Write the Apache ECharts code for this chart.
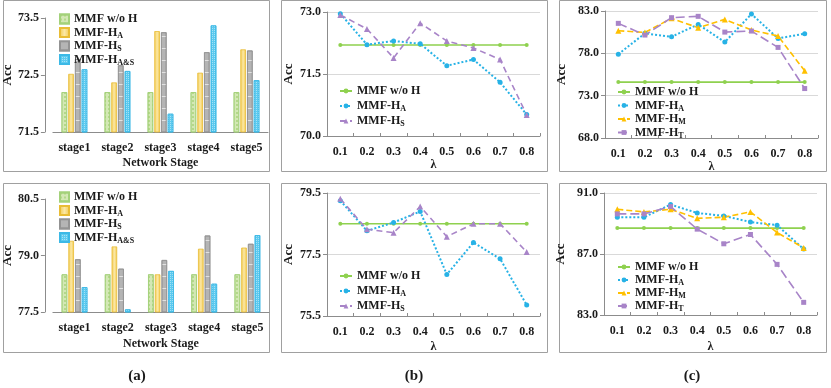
<!DOCTYPE html>
<html lang="en">
<head>
<meta charset="UTF-8">
<title>Acc chart</title>
<script src="https://cdn.jsdelivr.net/npm/echarts@6/dist/echarts.min.js"></script>
<style>
  html, body { margin: 0; padding: 0; background: #fff; }
  #chart { width: 831px; height: 388px; }
</style>
</head>
<body>
<div id="chart"></div>
<script>
// categories
var stages = ['stage1', 'stage2', 'stage3', 'stage4', 'stage5'];
var lambdas = ['0.1', '0.2', '0.3', '0.4', '0.5', '0.6', '0.7', '0.8'];

// (a) top
var aTopWoH = [72.2, 72.2, 72.2, 72.2, 72.2];
var aTopHA = [72.52, 72.37, 73.27, 72.54, 72.95];
var aTopHS = [72.78, 72.67, 73.25, 72.9, 72.93];
var aTopHAS = [72.6, 72.57, 71.82, 73.37, 72.41];
// (a) bottom
var aBotWoH = [78.5, 78.5, 78.5, 78.5, 78.5];
var aBotHA = [79.39, 79.24, 78.5, 79.18, 79.21];
var aBotHS = [78.9, 78.65, 78.88, 79.53, 79.31];
var aBotHAS = [78.16, 77.57, 78.59, 78.25, 79.54];
// (b) top
var bTopWoH = [72.2, 72.2, 72.2, 72.2, 72.2, 72.2, 72.2, 72.2];
var bTopHA = [72.96, 72.21, 72.3, 72.23, 71.7, 71.85, 71.3, 70.52];
var bTopHS = [72.93, 72.59, 71.89, 72.73, 72.3, 72.13, 71.85, 70.51];
// (b) bottom
var bBotWoH = [78.5, 78.5, 78.5, 78.5, 78.5, 78.5, 78.5, 78.5];
var bBotHA = [79.25, 78.27, 78.54, 78.9, 76.85, 77.89, 77.36, 75.86];
var bBotHS = [79.31, 78.32, 78.21, 79.06, 78.08, 78.5, 78.5, 77.58];
// (c) top
var cTopWoH = [74.6, 74.6, 74.6, 74.6, 74.6, 74.6, 74.6, 74.6];
var cTopHA = [77.9, 80.36, 79.96, 81.42, 79.33, 82.64, 79.76, 80.32];
var cTopHM = [80.67, 80.47, 82.13, 81.03, 82.01, 80.75, 80.04, 75.93];
var cTopHT = [81.54, 80.16, 82.21, 82.37, 80.51, 80.63, 78.7, 73.84];
// (c) bottom
var cBotWoH = [88.7, 88.7, 88.7, 88.7, 88.7, 88.7, 88.7, 88.7];
var cBotHA = [89.41, 89.41, 90.24, 89.69, 89.5, 89.1, 88.89, 87.32];
var cBotHM = [89.93, 89.76, 89.93, 89.34, 89.41, 89.76, 88.41, 87.4];
var cBotHT = [89.63, 89.63, 90.11, 88.63, 87.67, 88.28, 86.32, 83.83];

// y tick labels
var aTopTicks = [71.5, 72.5, 73.5];
var aBotTicks = [77.5, 79.0, 80.5];
var bTopTicks = [70.0, 71.5, 73.0];
var bBotTicks = [75.5, 77.5, 79.5];
var cTopTicks = [68.0, 73.0, 78.0, 83.0];
var cBotTicks = [83.0, 87.0, 91.0];

var FONT = "'Liberation Serif', 'Times New Roman', serif";
var INK = '#1a1a1a';
var AXIS = '#8c8c8c';

var rich = {
    m: { fontFamily: FONT, fontWeight: 'bold', fontSize: 12, color: INK, lineHeight: 14 },
    s: { fontFamily: FONT, fontWeight: 'bold', fontSize: 8, color: INK, padding: [6, 0, 0, 0] }
};
// names are "panel|text|subscript"
function legendFmt(n) {
    var p = n.split('|');
    return '{m|' + p[1] + '}{s|' + (p[2] || ' ') + '}';
}

function yAxisOf(grid, ticks, gap, offset, split) {
    return {
        type: 'value', gridIndex: grid,
        min: ticks[0], max: ticks[ticks.length - 1],
        offset: offset || 0,
        name: 'Acc', nameLocation: 'middle', nameGap: gap,
        nameTextStyle: { fontFamily: FONT, fontWeight: 'bold', fontSize: 13, color: INK },
        axisLine: { show: true, lineStyle: { color: AXIS } },
        axisTick: { show: true, length: 4, lineStyle: { color: AXIS }, customValues: ticks },
        axisLabel: {
            customValues: ticks, margin: 6,
            fontFamily: FONT, fontWeight: 'bold', fontSize: 12, color: INK,
            formatter: function (v) { return v.toFixed(1); }
        },
        splitLine: { show: split, lineStyle: { color: '#d9d9d9' } }
    };
}

function xAxisOf(grid, cats, name, gap, ticks) {
    return {
        type: 'category', gridIndex: grid, data: cats,
        name: name, nameLocation: 'middle', nameGap: gap,
        nameTextStyle: { fontFamily: FONT, fontWeight: 'bold', fontSize: 12, color: INK },
        axisLine: { lineStyle: { color: AXIS } },
        axisTick: { show: ticks, inside: true, length: 3, lineStyle: { color: AXIS } },
        axisLabel: { margin: 10, fontFamily: FONT, fontWeight: 'bold', fontSize: 12, color: INK }
    };
}

function bar(name, grid, data, style) {
    return {
        name: name, type: 'bar', xAxisIndex: grid, yAxisIndex: grid, data: data,
        barWidth: 5.6, barGap: '20%',
        itemStyle: style
    };
}

var greenBar = {
    color: '#d3e8b5', borderColor: '#a3d17a', borderWidth: 0.8,
    decal: { symbol: 'rect', symbolSize: 1, dashArrayX: [2, 2], dashArrayY: [2, 2], color: 'rgba(160,205,110,0.6)' }
};
var yellowBar = {
    color: new echarts.graphic.LinearGradient(0, 0, 1, 0, [
        { offset: 0, color: '#f2c84a' }, { offset: 0.5, color: '#fbe8a6' }, { offset: 1, color: '#f2c84a' }
    ]),
    borderColor: '#e9bd36', borderWidth: 0.8
};
var grayBar = {
    color: '#b4b4b4', borderColor: '#939393', borderWidth: 0.8,
    decal: { symbol: 'rect', symbolSize: 1, dashArrayX: [1, 0], dashArrayY: [1, 11], color: 'rgba(255,255,255,0.6)' }
};
var blueBar = {
    color: '#5ccaef', borderColor: '#3cb9e6', borderWidth: 0.8,
    decal: { symbol: 'rect', symbolSize: 1, dashArrayX: [1, 1], dashArrayY: [1, 1], color: 'rgba(255,255,255,0.45)' }
};

function line(name, grid, data, color, type, symbol, size) {
    return {
        name: name, type: 'line', xAxisIndex: grid, yAxisIndex: grid, data: data,
        symbol: symbol, symbolSize: size, showSymbol: true,
        itemStyle: { color: color },
        lineStyle: { color: color, width: type === 'dotted' ? 2 : 1.6, type: type }
    };
}

function legendOf(names, left, top, gap, icon) {
    var l = {
        orient: 'vertical', left: left, top: top, itemGap: gap,
        data: names, formatter: legendFmt,
        textStyle: { rich: rich }, selectedMode: false
    };
    if (icon) { l.itemWidth = 9; l.itemHeight = 9; l.icon = 'rect'; }
    else { l.itemWidth = 12; l.itemHeight = 6; }
    return l;
}

var GREEN = '#8fd14f', BLUE = '#27b2e6', PURPLE = '#a884c8', GOLD = '#ffc000';

var option = {
    animation: false,
    backgroundColor: '#fff',
    grid: [
        { left: 49, top: 18, width: 219, height: 114 },
        { left: 50, top: 199, width: 219, height: 113 },
        { left: 327, top: 12, width: 213, height: 124 },
        { left: 327, top: 193, width: 213, height: 123 },
        { left: 605, top: 11, width: 213, height: 127 },
        { left: 604, top: 193, width: 213, height: 122 }
    ],
    xAxis: [
        xAxisOf(0, stages, 'Network Stage', 25, false),
        xAxisOf(1, stages, 'Network Stage', 26, false),
        xAxisOf(2, lambdas, 'λ', 21, true),
        xAxisOf(3, lambdas, 'λ', 25, true),
        xAxisOf(4, lambdas, 'λ', 21, true),
        xAxisOf(5, lambdas, 'λ', 26, true)
    ],
    yAxis: [
        yAxisOf(0, aTopTicks, 26, 8, false),
        yAxisOf(1, aBotTicks, 26, 8, false),
        yAxisOf(2, bTopTicks, 32, 0, true),
        yAxisOf(3, bBotTicks, 32, 0, true),
        yAxisOf(4, cTopTicks, 37, 0, true),
        yAxisOf(5, cBotTicks, 37, 0, true)
    ],
    legend: [
        legendOf(['aT|MMF w/o H', 'aT|MMF-H|A', 'aT|MMF-H|S', 'aT|MMF-H|A&S'], 54, 8, 0.5, true),
        legendOf(['aB|MMF w/o H', 'aB|MMF-H|A', 'aB|MMF-H|S', 'aB|MMF-H|A&S'], 54, 186, 0.5, true),
        legendOf(['bT|MMF w/o H', 'bT|MMF-H|A', 'bT|MMF-H|S'], 334, 80, 2),
        legendOf(['bB|MMF w/o H', 'bB|MMF-H|A', 'bB|MMF-H|S'], 334, 265, 2),
        legendOf(['cT|MMF w/o H', 'cT|MMF-H|A', 'cT|MMF-H|M', 'cT|MMF-H|T'], 612, 81, 0.5),
        legendOf(['cB|MMF w/o H', 'cB|MMF-H|A', 'cB|MMF-H|M', 'cB|MMF-H|T'], 612, 256, 0)
    ],
    series: [
        bar('aT|MMF w/o H', 0, aTopWoH, greenBar),
        bar('aT|MMF-H|A', 0, aTopHA, yellowBar),
        bar('aT|MMF-H|S', 0, aTopHS, grayBar),
        bar('aT|MMF-H|A&S', 0, aTopHAS, blueBar),
        bar('aB|MMF w/o H', 1, aBotWoH, greenBar),
        bar('aB|MMF-H|A', 1, aBotHA, yellowBar),
        bar('aB|MMF-H|S', 1, aBotHS, grayBar),
        bar('aB|MMF-H|A&S', 1, aBotHAS, blueBar),

        line('bT|MMF w/o H', 2, bTopWoH, GREEN, 'solid', 'circle', 4),
        line('bT|MMF-H|A', 2, bTopHA, BLUE, 'dotted', 'circle', 5),
        line('bT|MMF-H|S', 2, bTopHS, PURPLE, [6, 4], 'triangle', 6),
        line('bB|MMF w/o H', 3, bBotWoH, GREEN, 'solid', 'circle', 4),
        line('bB|MMF-H|A', 3, bBotHA, BLUE, 'dotted', 'circle', 5),
        line('bB|MMF-H|S', 3, bBotHS, PURPLE, [6, 4], 'triangle', 6),

        line('cT|MMF w/o H', 4, cTopWoH, GREEN, 'solid', 'circle', 4),
        line('cT|MMF-H|A', 4, cTopHA, BLUE, 'dotted', 'circle', 5),
        line('cT|MMF-H|M', 4, cTopHM, GOLD, [6, 3], 'triangle', 6),
        line('cT|MMF-H|T', 4, cTopHT, PURPLE, [9, 4], 'rect', 5),
        line('cB|MMF w/o H', 5, cBotWoH, GREEN, 'solid', 'circle', 4),
        line('cB|MMF-H|A', 5, cBotHA, BLUE, 'dotted', 'circle', 5),
        line('cB|MMF-H|M', 5, cBotHM, GOLD, [6, 3], 'triangle', 6),
        line('cB|MMF-H|T', 5, cBotHT, PURPLE, [9, 4], 'rect', 5)
    ],
    graphic: [
        { type: 'rect', shape: { x: 3.5, y: 0.5, width: 266, height: 171 }, style: { fill: 'none', stroke: '#a0a0a0', lineWidth: 1 } },
        { type: 'rect', shape: { x: 3.5, y: 183.5, width: 266, height: 169 }, style: { fill: 'none', stroke: '#a0a0a0', lineWidth: 1 } },
        { type: 'rect', shape: { x: 281.5, y: 0.5, width: 266, height: 171 }, style: { fill: 'none', stroke: '#a0a0a0', lineWidth: 1 } },
        { type: 'rect', shape: { x: 281.5, y: 183.5, width: 266, height: 169 }, style: { fill: 'none', stroke: '#a0a0a0', lineWidth: 1 } },
        { type: 'rect', shape: { x: 559.5, y: 0.5, width: 267, height: 171 }, style: { fill: 'none', stroke: '#a0a0a0', lineWidth: 1 } },
        { type: 'rect', shape: { x: 559.5, y: 183.5, width: 267, height: 169 }, style: { fill: 'none', stroke: '#a0a0a0', lineWidth: 1 } },
        { type: 'text', x: 137, y: 376, style: { text: '(a)', fontFamily: FONT, fontWeight: 'bold', fontSize: 15, fill: INK, textAlign: 'center', textVerticalAlign: 'middle' } },
        { type: 'text', x: 414, y: 376, style: { text: '(b)', fontFamily: FONT, fontWeight: 'bold', fontSize: 15, fill: INK, textAlign: 'center', textVerticalAlign: 'middle' } },
        { type: 'text', x: 692, y: 376, style: { text: '(c)', fontFamily: FONT, fontWeight: 'bold', fontSize: 15, fill: INK, textAlign: 'center', textVerticalAlign: 'middle' } }
    ]
};

var mychart = echarts.init(document.getElementById('chart'));
mychart.setOption(option);
</script>
</body>
</html>
